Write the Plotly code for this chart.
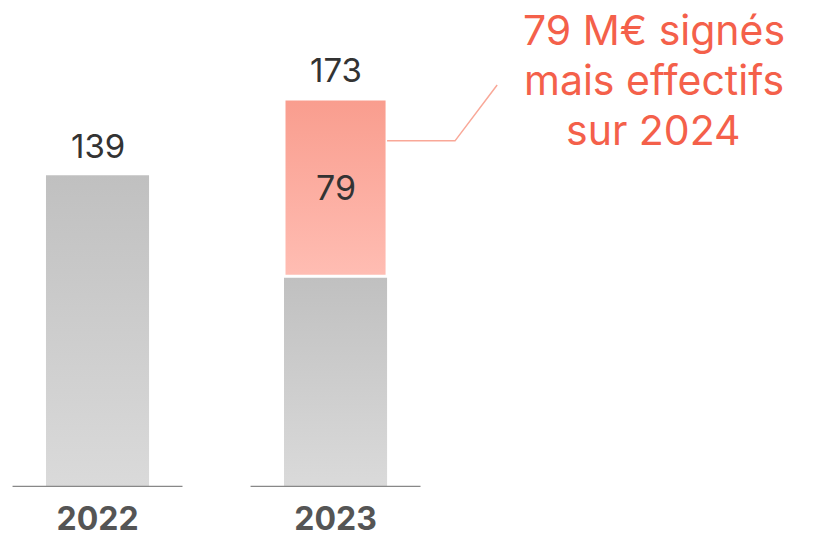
import plotly.graph_objects as go

categories = ["2022", "2023"]
effective = [139, 94]          # montants effectifs (gris)
signed_2024 = [0, 79]          # signés mais effectifs sur 2024 (saumon)
totals = [139, 173]
callout_lines = ["79 M€ signés", "mais effectifs", "sur 2024"]

FONT = "Inter, Roboto, sans-serif"
BAR_W = 0.433
GRAY_SCALE = [[0, "#dadada"], [1, "#c0c0c0"]]
PINK_SCALE = [[0, "#ffbdb3"], [1, "#f99d8e"]]

fig = go.Figure()


def rect(i, y0, y1):
    x0, x1 = i - BAR_W / 2, i + BAR_W / 2
    return [x0, x1, x1, x0, x0], [y0, y0, y1, y1, y0]


for i, v in enumerate(effective):
    xs, ys = rect(i, 0, v)
    fig.add_trace(go.Scatter(
        x=xs, y=ys, mode="lines", fill="toself",
        line=dict(width=0, color="rgba(0,0,0,0)"),
        fillgradient=dict(type="vertical", colorscale=GRAY_SCALE),
        hoverinfo="skip", showlegend=False))

for i, v in enumerate(signed_2024):
    if v <= 0:
        continue
    xs, ys = rect(i, effective[i], effective[i] + v)
    fig.add_trace(go.Scatter(
        x=xs, y=ys, mode="lines", fill="toself",
        line=dict(width=3, color="white"),
        fillgradient=dict(type="vertical", colorscale=PINK_SCALE),
        hoverinfo="skip", showlegend=False))
    fig.add_annotation(x=i, y=effective[i] + v / 2, text=str(v), showarrow=False,
                       font=dict(family=FONT, size=34, color="#333333"))

for i, t in enumerate(totals):
    fig.add_annotation(x=i, y=t, text=str(t), showarrow=False, yanchor="bottom",
                       yshift=7, font=dict(family=FONT, size=33, color="#333333"))

# baseline segments under each category
for i in range(len(categories)):
    fig.add_shape(type="line", xref="x", yref="y", x0=i - 0.357, x1=i + 0.357,
                  y0=0, y1=0, line=dict(color="#888888", width=2.5))

# leader line for the callout
fig.add_shape(type="path", xref="x", yref="y",
              path=f"M {1 + BAR_W / 2},154.3 L 1.502,154.3 L 1.679,179.2",
              line=dict(color="#f9a898", width=1.5))

# callout, one annotation per line (50 px line pitch)
for k, line in enumerate(callout_lines):
    fig.add_annotation(xref="paper", yref="paper", x=0.7995,
                       y=1 - (30 + 50 * k) / 487,
                       xanchor="center", yanchor="middle",
                       text=line, showarrow=False,
                       font=dict(family=FONT, size=41, color="#f4604a"))

fig.update_layout(
    width=818, height=538,
    margin=dict(l=0, r=0, t=0, b=51),
    paper_bgcolor="white", plot_bgcolor="white",
    hovermode=False,
    xaxis=dict(range=[-0.4097, 3.027], showgrid=False, zeroline=False, showline=False,
               tickvals=list(range(len(categories))), ticktext=categories,
               ticks="", ticklabelstandoff=10, fixedrange=True,
               tickfont=dict(family=FONT, size=32, color="#555555", weight=700)),
    yaxis=dict(range=[0, 217.1], visible=False, fixedrange=True),
)

fig.write_html("out.html", config={"displayModeBar": False},
               post_script="document.body.style.margin='0';document.body.style.overflow='hidden';")
